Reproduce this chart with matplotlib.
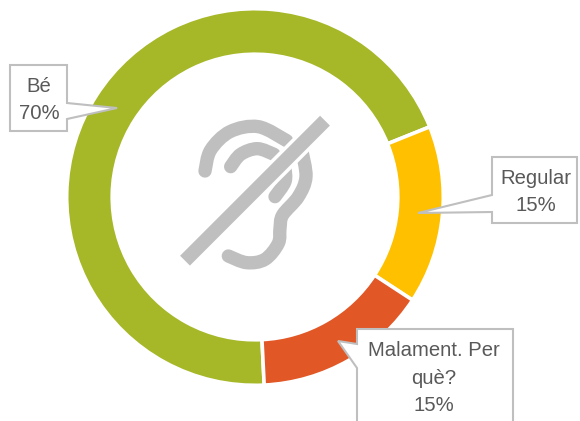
import matplotlib
matplotlib.use("Agg")
import matplotlib.pyplot as plt
from matplotlib.patches import Polygon, PathPatch
from matplotlib.path import Path
import numpy as np

categories = ["Bé", "Regular", "Malament. Per què?"]
values = [69.7, 15.3, 15.0]
labels = ["Bé\n70%", "Regular\n15%", "Malament. Per\nquè?\n15%"]
colors = ["#A6B727", "#FFC000", "#E15726"]
TEXT = "#595959"
GREY = "#BFBFBF"
W, H = 580, 421
FONT = ["Liberation Sans", "DejaVu Sans"]

fig = plt.figure(figsize=(W / 100, H / 100), dpi=100)
ax = fig.add_axes([0, 0, 1, 1])

def P(x, y):
    return (x, H - y)

ax.pie(values, colors=colors, center=P(255, 197), radius=188.3,
       startangle=90 - 177.2, counterclock=False, frame=True,
       wedgeprops=dict(width=45.5, edgecolor="white", linewidth=2.6))
ax.set_xlim(0, W)
ax.set_ylim(0, H)
ax.set_aspect("equal")
ax.axis("off")

def Z(pts):
    return [P(170 + x / 3, 100 + y / 3) for x, y in pts]

def smooth(pts, lw, color=GREY, z=3):
    pts = np.array(Z(pts))
    verts = [pts[0]]
    codes = [Path.MOVETO]
    n = len(pts)
    for i in range(n - 1):
        p0 = pts[max(i - 1, 0)]
        p1 = pts[i]
        p2 = pts[i + 1]
        p3 = pts[min(i + 2, n - 1)]
        verts += [p1 + (p2 - p0) / 6, p2 - (p3 - p1) / 6, p2]
        codes += [Path.CURVE4] * 3
    ax.add_patch(PathPatch(Path(verts, codes), fill=False, edgecolor=color,
                           lw=lw, capstyle="round", joinstyle="round", zorder=z))

LW = 9.6
smooth([(105, 213), (122, 150), (180, 95), (265, 80), (350, 122)], LW)
smooth([(182, 200), (212, 163), (262, 146), (312, 163)], LW)
smooth([(395, 150), (408, 230), (385, 290), (338, 345), (330, 385),
        (325, 430), (285, 478), (230, 488), (175, 468)], LW)
smooth([(345, 205), (345, 245), (315, 290)], LW)

slash = Z([(45, 482), (465, 62)])
xs, ys = zip(*slash)
ax.plot(xs, ys, color="white", lw=15, solid_capstyle="butt", zorder=4)
ax.plot(xs, ys, color=GREY, lw=10, solid_capstyle="butt", zorder=5)

def callout(pts, center, text):
    ax.add_patch(Polygon([P(*p) for p in pts], closed=True, facecolor="white",
                         edgecolor=GREY, lw=1.5, joinstyle="miter", zorder=6))
    ax.text(*P(*center), text, ha="center", va="center", color=TEXT,
            family=FONT, fontsize=14.6, linespacing=1.55, zorder=7)

callout([(10, 65), (67, 65), (67, 103), (117, 108), (67, 119), (67, 131), (10, 131)],
        (39, 100), labels[0])
callout([(492, 157), (577, 157), (577, 223), (492, 223), (492, 212), (418, 213), (492, 195)],
        (536, 192), labels[1])
callout([(357, 329), (513, 329), (513, 440), (357, 440), (357, 368), (338, 341), (357, 344)],
        (434, 378), labels[2])

fig.savefig("out.png", dpi=100)
